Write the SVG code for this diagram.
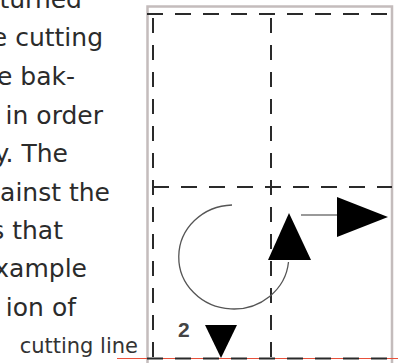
<svg xmlns="http://www.w3.org/2000/svg" width="398" height="363" viewBox="0 0 398 363">
<style>
.frame{stroke:#c4bcbc;stroke-width:2.5;fill:none}
.dash{stroke:#2a2a2a;stroke-width:2;fill:none;stroke-dasharray:16 12}
.vdash{stroke:#2a2a2a;stroke-width:2;fill:none;stroke-dasharray:15 12}
.tri{fill:#000}
</style>
<rect width="398" height="363" fill="#fff"/>
<g id="text" font-family="'DejaVu Sans',sans-serif" font-size="25" fill="#2b2b2b" text-anchor="end">
<text x="82" y="8">turned</text>
<text x="103" y="46">e cutting</text>
<text x="75" y="85">e bak-</text>
<text x="103" y="124">in order</text>
<text x="68" y="162">y. The</text>
<text x="110" y="201">ainst the</text>
<text x="63" y="239">s that</text>
<text x="87" y="277">xample</text>
<text x="76" y="316">ion of</text>
</g>
<g id="frame">
<path class="frame" d="M147.5,363 V6.5 H392 V363"/>
</g>
<g id="cutting-line">
<line x1="117" y1="358.5" x2="398" y2="358.5" stroke="#e8503a" stroke-width="1.2"/>
<text x="138" y="353" font-family="'DejaVu Sans',sans-serif" font-size="21" fill="#333" text-anchor="end">cutting line</text>
</g>
<g id="connectors">
<line class="dash" x1="147" y1="14" x2="392" y2="14"/>
<line class="dash" x1="153" y1="187" x2="392" y2="187"/>
<line class="dash" x1="147" y1="358.5" x2="392" y2="358.5"/>
<line class="vdash" x1="153" y1="18" x2="153" y2="363"/>
<line class="vdash" x1="271" y1="18" x2="271" y2="363"/>
<path d="M232,205 A55,52 0 1 0 288.5,262" fill="none" stroke="#555" stroke-width="1.3"/>
<line x1="301" y1="215" x2="338" y2="215" stroke="#777" stroke-width="1.3"/>
</g>
<g id="arrow-up"><polygon class="tri" points="289,213 311,260 268,260"/></g>
<g id="arrow-right"><polygon class="tri" points="337,197 388,217 337,237"/></g>
<g id="arrow-down"><polygon class="tri" points="205,325 237,325 221,358"/></g>
<g id="label-2"><text x="178" y="337" font-family="'Liberation Sans',Arial,sans-serif" font-weight="bold" font-size="21" fill="#444">2</text></g>
</svg>
